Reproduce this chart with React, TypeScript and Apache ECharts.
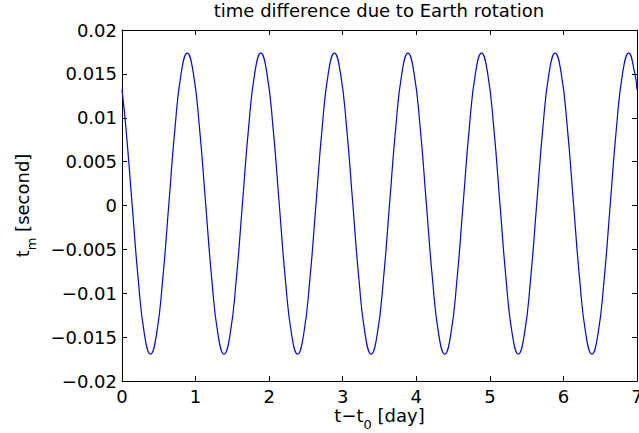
import React, { useEffect, useRef } from "react";
import * as echarts from "echarts";

const titleText = "time difference due to Earth rotation";
const xTicks = [0, 1, 2, 3, 4, 5, 6, 7];
const yTicks = [-0.02, -0.015, -0.01, -0.005, 0, 0.005, 0.01, 0.015, 0.02];

// t - t0 [day]
const days = [
  0,
  0.054, 0.137, 0.22, 0.304, 0.387, 0.47, 0.554, 0.637, 0.72, 0.804, 0.887, 0.97,
  1.054, 1.137, 1.22, 1.304, 1.387, 1.47, 1.554, 1.637, 1.72, 1.804, 1.887, 1.97,
  2.054, 2.137, 2.22, 2.304, 2.387, 2.47, 2.554, 2.637, 2.72, 2.804, 2.887, 2.97,
  3.054, 3.137, 3.22, 3.304, 3.387, 3.47, 3.554, 3.637, 3.72, 3.804, 3.887, 3.97,
  4.054, 4.137, 4.22, 4.304, 4.387, 4.47, 4.554, 4.637, 4.72, 4.804, 4.887, 4.97,
  5.054, 5.137, 5.22, 5.304, 5.387, 5.47, 5.554, 5.637, 5.72, 5.804, 5.887, 5.97,
  6.054, 6.137, 6.22, 6.304, 6.387, 6.47, 6.554, 6.637, 6.72, 6.804, 6.887, 6.97,
  7,
];

// t_m [second]
const seconds = [
  0.0132,
  0.00879, 0.0002, -0.00836, -0.01463, -0.01693, -0.01463, -0.00836, 0.0002, 0.00879, 0.01506, 0.01736, 0.01506,
  0.00879, 0.0002, -0.00836, -0.01463, -0.01693, -0.01463, -0.00836, 0.0002, 0.00879, 0.01506, 0.01736, 0.01506,
  0.00879, 0.0002, -0.00836, -0.01463, -0.01693, -0.01463, -0.00836, 0.0002, 0.00879, 0.01506, 0.01736, 0.01506,
  0.00879, 0.0002, -0.00836, -0.01463, -0.01693, -0.01463, -0.00836, 0.0002, 0.00879, 0.01506, 0.01736, 0.01506,
  0.00879, 0.0002, -0.00836, -0.01463, -0.01693, -0.01463, -0.00836, 0.0002, 0.00879, 0.01506, 0.01736, 0.01506,
  0.00879, 0.0002, -0.00836, -0.01463, -0.01693, -0.01463, -0.00836, 0.0002, 0.00879, 0.01506, 0.01736, 0.01506,
  0.00879, 0.0002, -0.00836, -0.01463, -0.01693, -0.01463, -0.00836, 0.0002, 0.00879, 0.01506, 0.01736, 0.01506,
  0.0132,
];

const FONT = "DejaVu Sans";

export default function App() {
  const ref = useRef<HTMLDivElement>(null);
  useEffect(() => {
    if (!ref.current) return;
    const chart = echarts.init(ref.current, undefined, { renderer: "svg" });
    const fmtY = (v: number) => {
      const s = String(parseFloat(v.toFixed(4)));
      return s.replace("-", "\u2212");
    };
    const axisLine = { show: true, onZero: false, lineStyle: { color: "#000", width: 1 } };
    const tick = { show: true, inside: true, length: 5, lineStyle: { color: "#000", width: 1 } };
    const labelStyle = { fontFamily: FONT, fontSize: 18, color: "#000" };
    const nameStyle = {
      fontFamily: FONT,
      fontSize: 18,
      color: "#000",
      lineHeight: 32,
      rich: {
        sub: { fontFamily: FONT, fontSize: 13, color: "#000", lineHeight: 13, verticalAlign: "bottom" },
      },
    };
    chart.setOption({
      animation: false,
      backgroundColor: "#fff",
      title: {
        text: titleText,
        left: 379,
        top: 1,
        padding: 0,
        textAlign: "center",
        textStyle: { fontFamily: FONT, fontSize: 18, fontWeight: "normal", color: "#000" },
      },
      grid: {
        left: 122,
        right: 2,
        top: 30,
        bottom: 52,
        containLabel: false,
        outerBoundsMode: "none",
      },
      xAxis: [
        {
          type: "value",
          position: "bottom",
          min: xTicks[0],
          max: xTicks[xTicks.length - 1],
          interval: 1,
          axisLine,
          axisTick: tick,
          axisLabel: {
            ...labelStyle,
            lineHeight: 14,
            margin: 8,
            showMaxLabel: true,
            showMinLabel: true,
            hideOverlap: false,
          },
          splitLine: { show: false },
          name: "t\u2212t{sub|0} [day]",
          nameLocation: "middle",
          nameGap: 18,
          nameMoveOverlap: false,
          nameTextStyle: nameStyle,
        },
        {
          type: "value",
          position: "top",
          min: xTicks[0],
          max: xTicks[xTicks.length - 1],
          interval: 1,
          axisLine,
          axisTick: tick,
          axisLabel: { show: false },
          splitLine: { show: false },
        },
      ],
      yAxis: [
        {
          type: "value",
          position: "left",
          min: yTicks[0],
          max: yTicks[yTicks.length - 1],
          interval: 0.005,
          axisLine,
          axisTick: tick,
          axisLabel: { ...labelStyle, margin: 5, formatter: fmtY },
          splitLine: { show: false },
          name: "t{sub|m} [second]",
          nameLocation: "middle",
          nameGap: 84,
          nameMoveOverlap: false,
          nameTextStyle: nameStyle,
        },
        {
          type: "value",
          position: "right",
          min: yTicks[0],
          max: yTicks[yTicks.length - 1],
          interval: 0.005,
          axisLine,
          axisTick: tick,
          axisLabel: { show: false },
          splitLine: { show: false },
        },
      ],
      series: [
        {
          type: "line",
          data: days.map((d, i) => [d, seconds[i]]),
          smooth: 0.5,
          showSymbol: false,
          symbol: "none",
          clip: true,
          lineStyle: { color: "#0000ff", width: 1.2 },
          xAxisIndex: 0,
          yAxisIndex: 0,
        },
      ],
    });
    return () => chart.dispose();
  }, []);
  return (
    <div
      ref={ref}
      style={{ position: "fixed", left: 0, top: 0, width: 639, height: 433, background: "#fff" }}
    />
  );
}
